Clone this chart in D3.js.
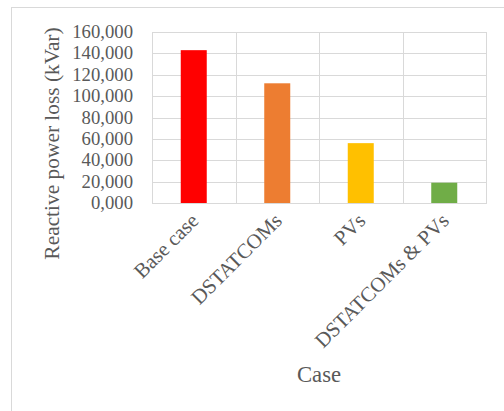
<!DOCTYPE html>
<html>
<head>
<meta charset="utf-8">
<script src="https://cdn.jsdelivr.net/npm/d3@7"></script>
<style>
  html, body { margin: 0; padding: 0; background: #fff; }
  svg { display: block; }
  text { font-family: "Liberation Serif", "Times New Roman", serif; fill: #595959; }
</style>
</head>
<body>
<div id="chart"></div>
<script>
// Reactive power loss per compensation case
const categories = ["Base case", "DSTATCOMs", "PVs", "DSTATCOMs & PVs"];
const lossValues = [143000, 112000, 56000, 19000];
const barColors = ["#ff0000", "#ed7d31", "#ffc000", "#70ad47"];
const yTicks = [0, 20000, 40000, 60000, 80000, 100000, 120000, 140000, 160000];

const W = 504, H = 411;
const m = { left: 152, right: 486, top: 32, bottom: 203 };

const svg = d3.select("#chart").append("svg")
  .attr("width", W).attr("height", H);

// chart area frame
svg.append("rect")
  .attr("x", 11.5).attr("y", 7.5)
  .attr("width", W + 10).attr("height", H + 10)
  .attr("fill", "#fff").attr("stroke", "#d9d9d9").attr("stroke-width", 1);

const x = d3.scaleBand().domain(categories).range([m.left, m.right]).paddingInner(0).paddingOuter(0);
const y = d3.scaleLinear().domain([0, 160000]).range([m.bottom, m.top]);

const fmt = v => {
  const s = d3.format(",")(v / 1000);
  return s + ",000";
};

// horizontal grid lines
svg.append("g").selectAll("line").data(yTicks).join("line")
  .attr("x1", m.left).attr("x2", m.right)
  .attr("y1", d => Math.round(y(d)) + 0.5).attr("y2", d => Math.round(y(d)) + 0.5)
  .attr("stroke", "#d9d9d9").attr("stroke-width", 1);

// vertical category dividers
const dividers = categories.map(c => x(c)).concat([m.right]);
svg.append("g").selectAll("line").data(dividers).join("line")
  .attr("x1", d => Math.round(d) + 0.5).attr("x2", d => Math.round(d) + 0.5)
  .attr("y1", m.top).attr("y2", m.bottom + 1)
  .attr("stroke", "#d9d9d9").attr("stroke-width", 1);

// bars
const barW = 26;
svg.append("g").selectAll("rect").data(categories).join("rect")
  .attr("x", d => x(d) + x.bandwidth() / 2 - barW / 2)
  .attr("y", (d, i) => y(lossValues[i]))
  .attr("width", barW)
  .attr("height", (d, i) => y(0) - y(lossValues[i]))
  .attr("fill", (d, i) => barColors[i]);

// y axis tick labels
svg.append("g").selectAll("text").data(yTicks).join("text")
  .attr("x", 133).attr("y", d => y(d) + 6)
  .attr("text-anchor", "end")
  .style("font-size", "18.7px")
  .text(fmt);

// category labels, rotated
svg.append("g").selectAll("text").data(categories).join("text")
  .attr("transform", d => `translate(${x(d) + x.bandwidth() / 2 + 6},${m.bottom + 19}) rotate(-45)`)
  .attr("text-anchor", "end")
  .style("font-size", "20.8px")
  .text(d => d);

// axis titles
svg.append("text")
  .attr("transform", `translate(59,143.5) rotate(-90)`)
  .attr("text-anchor", "middle")
  .style("font-size", "21.4px")
  .text("Reactive power loss (kVar)");

svg.append("text")
  .attr("x", (m.left + m.right) / 2).attr("y", 382)
  .attr("text-anchor", "middle")
  .style("font-size", "22.7px")
  .text("Case");
</script>
</body>
</html>
